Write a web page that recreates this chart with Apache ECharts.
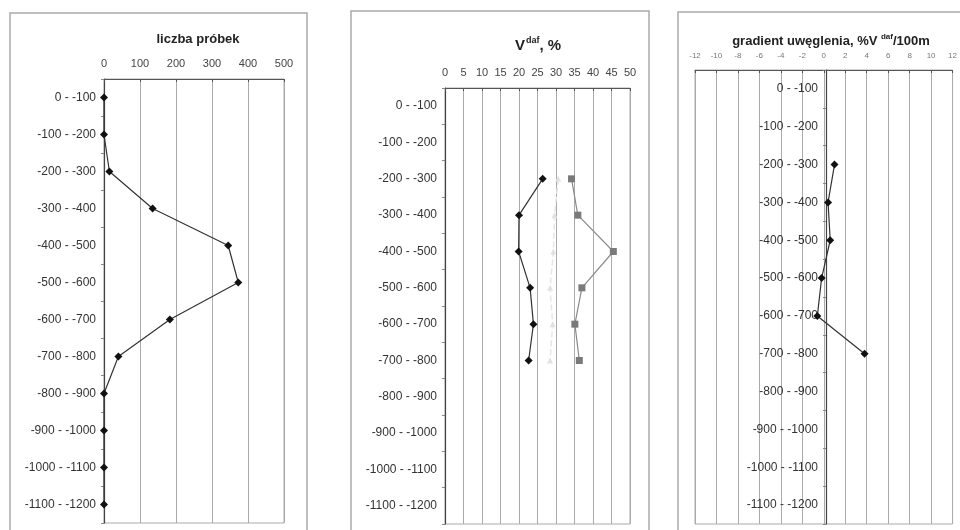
<!DOCTYPE html>
<html>
<head>
<meta charset="utf-8">
<script src="https://cdn.jsdelivr.net/npm/echarts@6/dist/echarts.min.js"></script>
<style>
  html, body { margin: 0; padding: 0; background: #fff; }
  #chart { width: 960px; height: 530px; }
</style>
</head>
<body>
<div id="chart"></div>
<script>
// Depth intervals (m)
const depthIntervals = [
  '0 - -100', '-100 - -200', '-200 - -300', '-300 - -400', '-400 - -500', '-500 - -600',
  '-600 - -700', '-700 - -800', '-800 - -900', '-900 - -1000', '-1000 - -1100', '-1100 - -1200'
];

// Number of samples per interval
const sampleCount = [0, 0, 15, 135, 345, 373, 183, 40, 0, 0, 0, 0];

// Volatile matter V^daf, % (three profiles)
const vdafDark  = [null, null, 26.4, 20.0, 19.9, 23.0, 23.9, 22.6, null, null, null, null];
const vdafLight = [null, null, 30.6, 29.6, 29.3, 28.4, 29.1, 28.4, null, null, null, null];
const vdafGrey  = [null, null, 34.2, 35.9, 45.5, 37.0, 35.1, 36.3, null, null, null, null];

// Coalification gradient, %V^daf / 100 m
const gradient = [null, null, 1.0, 0.4, 0.6, -0.2, -0.6, 3.8, null, null, null, null];

// Axis ranges / steps
const countAxis = { min: 0, max: 500, interval: 100 };
const vdafAxis = { min: 0, max: 50, interval: 5 };
const gradAxis = { min: -12, max: 12, interval: 2 };

const FONT = '"Liberation Sans", Arial, sans-serif';

const chart = echarts.init(document.getElementById('chart'), null, { renderer: 'canvas' });

function xAx(gridIndex, range, labelSize, labelColor) {
  return {
    gridIndex, type: 'value', position: 'top',
    min: range.min, max: range.max, interval: range.interval,
    axisLine: { show: true, onZero: false, lineStyle: { color: '#555', width: 1 } },
    axisTick: { show: true, length: 3, inside: true, lineStyle: { color: '#555' } },
    axisLabel: { fontFamily: FONT, fontSize: labelSize, color: labelColor, margin: 10 },
    splitLine: { show: true, lineStyle: { color: '#aaa', width: 1 } }
  };
}

function yAx(gridIndex, offset) {
  return {
    gridIndex, type: 'category', data: depthIntervals, inverse: true,
    boundaryGap: true, offset: offset,
    axisLine: { show: true, onZero: false, lineStyle: { color: '#444', width: 1.2 } },
    axisTick: { show: true, length: 3, lineStyle: { color: '#888' } },
    axisLabel: { fontFamily: FONT, fontSize: 12, color: '#333', margin: 8 },
    splitLine: { show: false }
  };
}

function panelFrame(x, y, w, h) {
  return {
    type: 'rect', silent: true, z: -1,
    shape: { x, y, width: w, height: h },
    style: { fill: 'transparent', stroke: '#aaa', lineWidth: 1.5 }
  };
}

const option = {
  backgroundColor: '#fff',
  animation: false,
  textStyle: { fontFamily: FONT },
  graphic: [
    panelFrame(10, 13, 297, 540),
    panelFrame(351, 11, 298, 540),
    panelFrame(678, 12, 300, 540)
  ],
  title: [
    {
      text: 'liczba próbek', left: 193, top: 28, textAlign: 'center',
      textStyle: { fontFamily: FONT, fontSize: 13, fontWeight: 'bold', color: '#222' }
    },
    {
      text: '{v|V}{s|daf}{v|, %}', left: 533, top: 31, textAlign: 'center',
      textStyle: {
        rich: {
          v: { fontFamily: FONT, fontSize: 15, fontWeight: 'bold', color: '#222' },
          s: { fontFamily: FONT, fontSize: 9, fontWeight: 'bold', color: '#222', verticalAlign: 'top', padding: [0, 0, 10, 1] }
        }
      }
    },
    {
      text: '{v|gradient uwęglenia, %V }{s|daf}{v|/100m}', left: 826, top: 28, textAlign: 'center',
      textStyle: {
        rich: {
          v: { fontFamily: FONT, fontSize: 13, fontWeight: 'bold', color: '#222' },
          s: { fontFamily: FONT, fontSize: 8, fontWeight: 'bold', color: '#222', verticalAlign: 'top', padding: [0, 0, 9, 0] }
        }
      }
    }
  ],
  grid: [
    { left: 104, top: 79, width: 180, height: 444, show: true, borderColor: '#aaa', borderWidth: 1, containLabel: false },
    { left: 445, top: 88, width: 185, height: 436, show: true, borderColor: '#aaa', borderWidth: 1, containLabel: false },
    { left: 695, top: 70, width: 262, height: 454, show: true, borderColor: '#aaa', borderWidth: 1, containLabel: false }
  ],
  xAxis: [
    xAx(0, countAxis, 11, '#444'),
    xAx(1, vdafAxis, 11, '#444'),
    xAx(2, gradAxis, 8, '#777')
  ],
  yAxis: [
    yAx(0, 0),
    yAx(1, 0),
    // depth axis of the gradient panel sits on the zero line (x = 0)
    yAx(2, -131)
  ],
  series: [
    {
      name: 'liczba próbek', type: 'line', xAxisIndex: 0, yAxisIndex: 0,
      data: sampleCount.map((v, i) => [v, depthIntervals[i]]),
      symbol: 'diamond', symbolSize: 8,
      itemStyle: { color: '#111' },
      lineStyle: { color: '#333', width: 1.2 }
    },
    {
      name: 'Vdaf A', type: 'line', xAxisIndex: 1, yAxisIndex: 1,
      data: vdafLight.map((v, i) => [v, depthIntervals[i]]),
      symbol: 'triangle', symbolSize: 6,
      itemStyle: { color: '#e2e2e2' },
      lineStyle: { color: '#e6e6e6', width: 1.5, type: [6, 3] }
    },
    {
      name: 'Vdaf B', type: 'line', xAxisIndex: 1, yAxisIndex: 1,
      data: vdafGrey.map((v, i) => [v, depthIntervals[i]]),
      symbol: 'rect', symbolSize: 7,
      itemStyle: { color: '#7a7a7a' },
      lineStyle: { color: '#8a8a8a', width: 1.2 }
    },
    {
      name: 'Vdaf C', type: 'line', xAxisIndex: 1, yAxisIndex: 1,
      data: vdafDark.map((v, i) => [v, depthIntervals[i]]),
      symbol: 'diamond', symbolSize: 8,
      itemStyle: { color: '#111' },
      lineStyle: { color: '#333', width: 1.2 }
    },
    {
      name: 'gradient', type: 'line', xAxisIndex: 2, yAxisIndex: 2,
      data: gradient.map((v, i) => [v, depthIntervals[i]]),
      symbol: 'diamond', symbolSize: 8,
      itemStyle: { color: '#111' },
      lineStyle: { color: '#333', width: 1.2 }
    }
  ]
};

chart.setOption(option);
</script>
</body>
</html>
